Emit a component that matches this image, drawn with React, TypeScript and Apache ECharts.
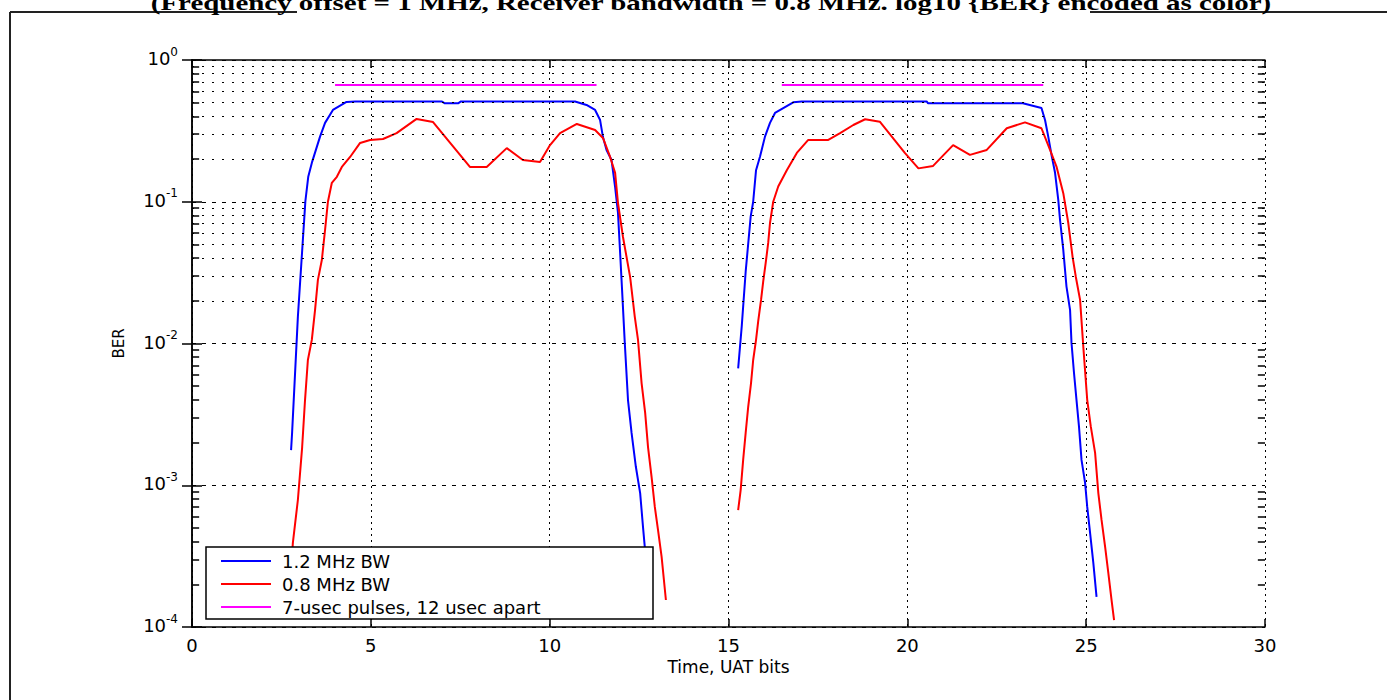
import React, { useEffect, useRef } from 'react';
import * as echarts from 'echarts';

const TITLE = '(Frequency offset = 1 MHz, Receiver bandwidth = 0.8 MHz. log10 {BER} encoded as color)';
const X_NAME = 'Time, UAT bits';
const Y_NAME = 'BER';
const NAMES = ['1.2 MHz BW', '0.8 MHz BW', '7-usec pulses, 12 usec apart'];

const X_MIN = 0;
const X_MAX = 30;
const X_STEP = 5;
const Y_MIN = 1e-4;
const Y_MAX = 1;
const MINOR_MANTISSAS = [2, 3, 4, 5, 6, 7, 8, 9];
const DECADES = [-4, -3, -2, -1];

// [time (UAT bits), BER]
const blue1 = [
  [2.77, 1.77e-3], [2.80, 2.38e-3], [2.96, 1.54e-2], [3.17, 0.101], [3.25, 0.150], [3.35, 0.188],
  [3.58, 0.288], [3.72, 0.360], [3.94, 0.444], [4.32, 0.506], [4.56, 0.51], [6.98, 0.51],
  [7.07, 0.495], [7.44, 0.495], [7.52, 0.51], [10.71, 0.51], [11.03, 0.482], [11.27, 0.444],
  [11.41, 0.377], [11.49, 0.286], [11.59, 0.232], [11.73, 0.197], [11.83, 0.127], [11.91, 0.0834],
  [11.97, 0.0435], [12.02, 0.0251], [12.10, 0.0101], [12.19, 3.99e-3], [12.29, 2.34e-3],
  [12.41, 1.35e-3], [12.53, 8.81e-4], [12.61, 5.07e-4], [12.66, 3.66e-4], [12.75, 1.98e-4],
];
const blue2 = [
  [15.27, 6.68e-3], [15.37, 1.32e-2], [15.48, 0.0321], [15.62, 0.0785], [15.69, 0.1], [15.77, 0.167],
  [15.88, 0.208], [16.02, 0.288], [16.16, 0.360], [16.30, 0.423], [16.81, 0.503], [17.05, 0.51],
  [20.54, 0.51], [20.58, 0.495], [23.23, 0.495], [23.75, 0.458], [23.85, 0.377], [23.94, 0.288],
  [24.04, 0.208], [24.13, 0.160], [24.22, 0.103], [24.27, 0.0743], [24.36, 0.0457], [24.45, 0.0252],
  [24.55, 0.0172], [24.59, 0.0101], [24.66, 6.19e-3], [24.73, 3.99e-3], [24.80, 2.58e-3],
  [24.87, 1.51e-3], [24.97, 1.04e-3], [25.03, 7.03e-4], [25.11, 4.60e-4], [25.20, 2.83e-4],
  [25.29, 1.63e-4],
];
const red1 = [
  [2.74, 1.98e-4], [2.82, 3.92e-4], [2.96, 7.87e-4], [3.08, 1.86e-3], [3.16, 3.99e-3], [3.24, 7.65e-3],
  [3.35, 0.0106], [3.44, 0.0172], [3.52, 0.0281], [3.63, 0.0388], [3.72, 0.0632], [3.80, 0.1],
  [3.91, 0.136], [4.05, 0.150], [4.19, 0.176], [4.42, 0.207], [4.70, 0.260], [4.98, 0.273],
  [5.34, 0.277], [5.72, 0.305], [6.28, 0.384], [6.74, 0.365], [7.77, 0.176], [8.24, 0.176],
  [8.80, 0.239], [9.25, 0.197], [9.73, 0.191], [10.01, 0.251], [10.29, 0.305], [10.76, 0.354],
  [11.27, 0.321], [11.49, 0.282], [11.69, 0.207], [11.83, 0.160], [11.91, 0.098], [12.05, 0.0564],
  [12.25, 0.0294], [12.38, 0.0154], [12.47, 0.0106], [12.57, 5.26e-3], [12.67, 3.24e-3],
  [12.75, 1.86e-3], [12.85, 1.14e-3], [12.94, 7.03e-4], [13.03, 4.83e-4], [13.13, 3.12e-4],
  [13.25, 1.55e-4],
];
const red2 = [
  [15.27, 6.68e-4], [15.34, 9.25e-4], [15.41, 1.51e-3], [15.48, 2.34e-3], [15.55, 3.56e-3],
  [15.63, 5.26e-3], [15.69, 7.65e-3], [15.77, 0.0106], [15.83, 0.0143], [15.91, 0.0203],
  [15.97, 0.0273], [16.04, 0.0370], [16.11, 0.0512], [16.16, 0.0708], [16.25, 0.1], [16.39, 0.128],
  [16.63, 0.167], [16.91, 0.221], [17.23, 0.273], [17.79, 0.273], [18.12, 0.305], [18.49, 0.348],
  [18.82, 0.382], [19.23, 0.367], [19.93, 0.221], [20.31, 0.172], [20.72, 0.179], [21.28, 0.251],
  [21.75, 0.214], [22.22, 0.232], [22.78, 0.330], [23.29, 0.363], [23.75, 0.330], [23.99, 0.232],
  [24.17, 0.177], [24.36, 0.115], [24.50, 0.0708], [24.62, 0.0409], [24.71, 0.0296], [24.83, 0.0203],
  [24.92, 9.48e-3], [25.03, 3.99e-3], [25.13, 2.59e-3], [25.25, 1.69e-3], [25.34, 8.81e-4],
  [25.43, 5.69e-4], [25.53, 3.68e-4], [25.62, 2.40e-4], [25.71, 1.55e-4], [25.78, 1.12e-4],
];
const pulses = [[4.0, 0.667], [11.31, 0.667], [13.9, '-'], [16.49, 0.667], [23.8, 0.667]];

const FONT = '"DejaVu Sans", "Liberation Sans", sans-serif';

export default function App() {
  const ref = useRef<HTMLDivElement>(null);
  useEffect(() => {
    if (!ref.current) return;
    const chart = echarts.init(ref.current, null, { renderer: 'svg' });
    const gap = (a: any[], b: any[]) => [...a, [14, '-'], ...b];
    const minor: number[] = [];
    DECADES.forEach((d) => MINOR_MANTISSAS.forEach((m) => minor.push(m * Math.pow(10, d))));
    const tickLen = 0.2;
    const minorGrid = minor.map((v) => ({ yAxis: v }));
    const minorTicks: any[] = [];
    minor.forEach((v) => {
      minorTicks.push([{ coord: [X_MIN, v] }, { coord: [X_MIN + tickLen, v] }]);
      minorTicks.push([{ coord: [X_MAX, v] }, { coord: [X_MAX - tickLen, v] }]);
    });
    const axisLine = { show: true, lineStyle: { color: '#000', width: 1.5 } };
    const option: any = {
      animation: false,
      backgroundColor: '#fff',
      grid: { left: 192, right: 122, top: 60, bottom: 73, containLabel: false, outerBoundsMode: 'none' },
      graphic: [
        { type: 'line', shape: { x1: 10, y1: 12, x2: 10, y2: 700 }, style: { stroke: '#222', lineWidth: 2 } },
        { type: 'line', shape: { x1: 10, y1: 12, x2: 297, y2: 12 }, style: { stroke: '#222', lineWidth: 2 } },
        { type: 'line', shape: { x1: 1090, y1: 12, x2: 1387, y2: 12 }, style: { stroke: '#222', lineWidth: 2 } },
        {
          type: 'text', x: 711, y: 14, scaleX: 1.315, z: 10,
          style: { text: TITLE, font: 'bold 22px "Liberation Serif", serif', fill: '#000', align: 'center', textAlign: 'center', verticalAlign: 'bottom', textVerticalAlign: 'bottom' },
        },
      ],
      legend: {
        orient: 'vertical', left: 206, top: 547,
        data: NAMES, selectedMode: false, icon: 'rect',
        backgroundColor: '#fff', borderColor: '#000', borderWidth: 1.5,
        padding: [5, 28, 3, 15],
        itemWidth: 50, itemHeight: 2, itemGap: 5,
        textStyle: { fontFamily: FONT, fontSize: 18, color: '#000', lineHeight: 18, width: 343, padding: [0, 0, 0, 6] },
      },
      xAxis: [
        {
          type: 'value', min: X_MIN, max: X_MAX, interval: X_STEP, position: 'bottom',
          name: X_NAME, nameLocation: 'middle', nameGap: 29,
          nameTextStyle: { fontFamily: FONT, fontSize: 17, color: '#000' },
          axisLine, axisTick: { show: true, inside: true, length: 8, lineStyle: { color: '#000', width: 1.5 } },
          axisLabel: { fontFamily: FONT, fontSize: 18, color: '#000', margin: 9 },
          splitLine: { show: true, lineStyle: { color: '#000', width: 1, type: [2, 4] } },
        },
        {
          type: 'value', min: X_MIN, max: X_MAX, interval: X_STEP, position: 'top',
          axisLine, axisTick: { show: true, inside: true, length: 8, lineStyle: { color: '#000', width: 1.5 } },
          axisLabel: { show: false }, splitLine: { show: false },
        },
      ],
      yAxis: [
        {
          type: 'log', logBase: 10, min: Y_MIN, max: Y_MAX, splitNumber: 4, position: 'left',
          name: Y_NAME, nameLocation: 'middle', nameGap: 66,
          nameTextStyle: { fontFamily: FONT, fontSize: 15, color: '#000' },
          axisLine, axisTick: { show: true, inside: true, length: 10, lineStyle: { color: '#000', width: 1.5 } },
          axisLabel: {
            margin: 14,
            padding: [0, 0, 7, 0],
            formatter: (v: number) => `{b|10}{s|${Math.round(Math.log10(v))}}`,
            rich: {
              b: { fontFamily: FONT, fontSize: 18, color: '#000', lineHeight: 22, verticalAlign: 'bottom' },
              s: { fontFamily: FONT, fontSize: 12, color: '#000', lineHeight: 12, verticalAlign: 'top' },
            },
          },
          splitLine: { show: true, lineStyle: { color: '#000', width: 1, type: [4, 6] } },
        },
        {
          type: 'log', logBase: 10, min: Y_MIN, max: Y_MAX, splitNumber: 4, position: 'right',
          axisLine, axisTick: { show: true, inside: true, length: 10, lineStyle: { color: '#000', width: 1.5 } },
          axisLabel: { show: false }, splitLine: { show: false },
        },
      ],
      series: [
        {
          type: 'line', name: '_grid', data: [], z: 1, silent: true,
          markLine: {
            silent: true, symbol: ['none', 'none'], label: { show: false }, animation: false,
            emphasis: { disabled: true },
            lineStyle: { color: '#000', width: 1, type: [2, 8] },
            data: minorGrid,
          },
        },
        {
          type: 'line', name: '_ticks', data: [], z: 1, silent: true,
          markLine: {
            silent: true, symbol: ['none', 'none'], label: { show: false }, animation: false,
            emphasis: { disabled: true },
            lineStyle: { color: '#000', width: 1.5, type: 'solid' },
            data: minorTicks,
          },
        },
        {
          type: 'line', name: NAMES[0], data: gap(blue1, blue2), symbol: 'none', z: 3,
          lineStyle: { color: '#0000ff', width: 2 }, itemStyle: { color: '#0000ff' },
        },
        {
          type: 'line', name: NAMES[1], data: gap(red1, red2), symbol: 'none', z: 3,
          lineStyle: { color: '#ff0000', width: 2 }, itemStyle: { color: '#ff0000' },
        },
        {
          type: 'line', name: NAMES[2], data: pulses, symbol: 'none', z: 3,
          lineStyle: { color: '#ff00ff', width: 2 }, itemStyle: { color: '#ff00ff' },
        },
      ],
    };
    chart.setOption(option);
    return () => chart.dispose();
  }, []);
  return (
    <div
      ref={ref}
      style={{ position: 'fixed', left: 0, top: 0, width: 1387, height: 700, background: '#fff' }}
    />
  );
}
